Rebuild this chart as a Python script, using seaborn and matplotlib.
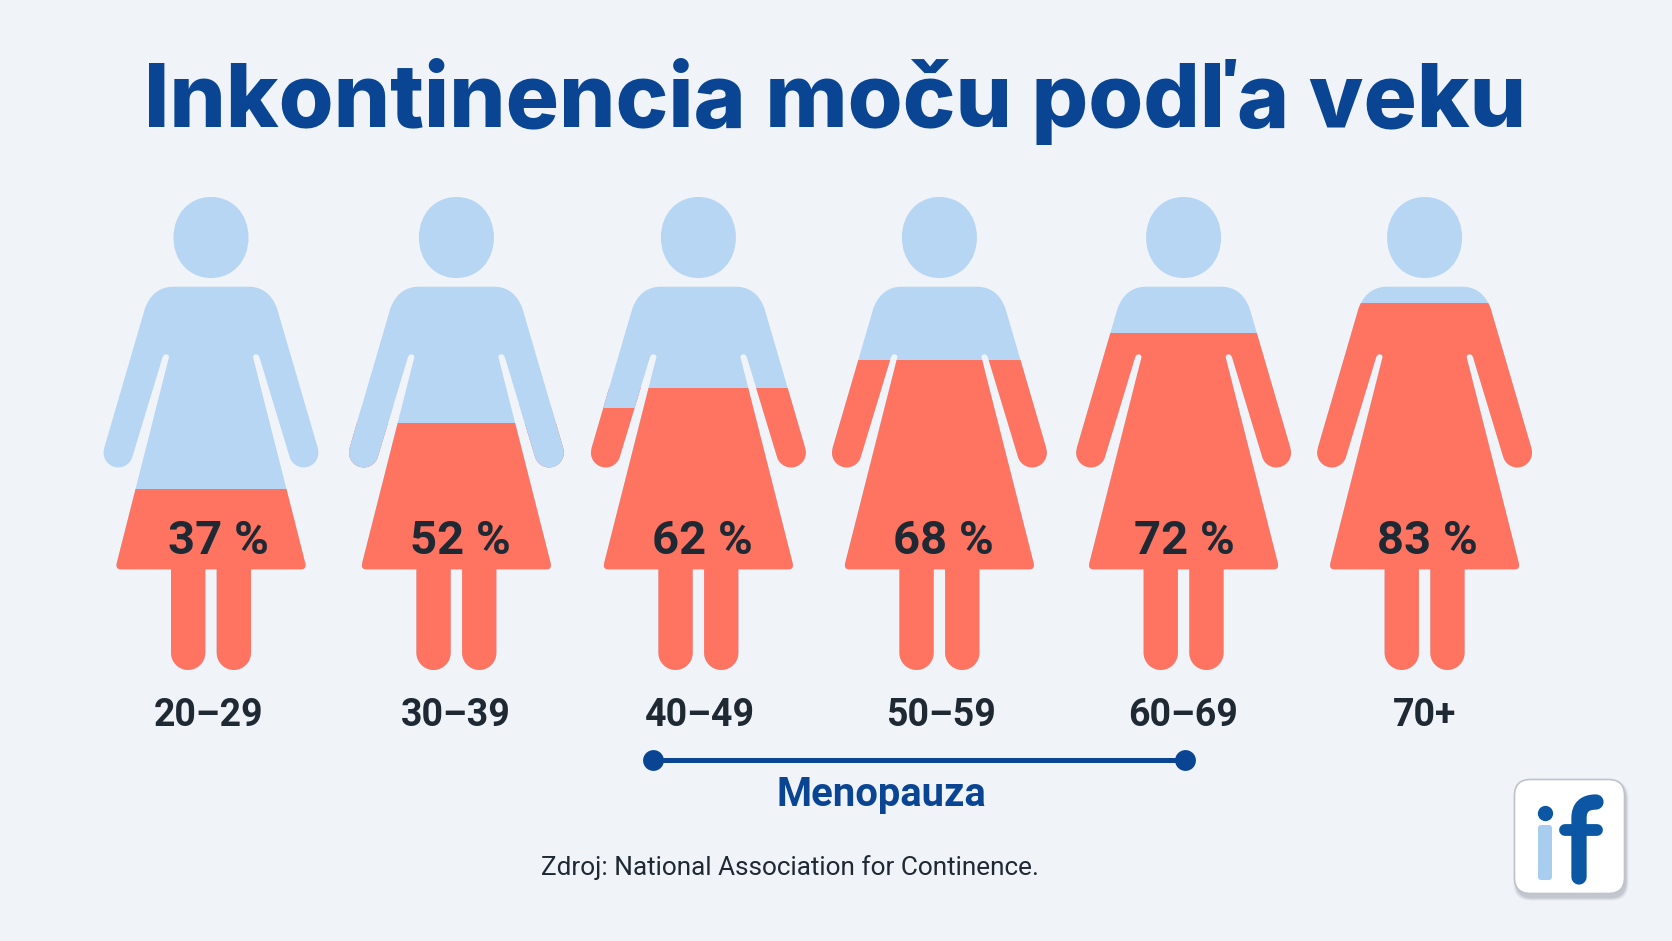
import numpy as np
import pandas as pd
import seaborn as sns
import matplotlib.pyplot as plt
from matplotlib.path import Path
from matplotlib.patches import PathPatch, FancyBboxPatch
from matplotlib.transforms import Affine2D

# values
age_groups = ["20–29", "30–39", "40–49", "50–59", "60–69", "70+"]
share_labels = ["37 %", "52 %", "62 %", "68 %", "72 %", "83 %"]
# how far the red reaches, in % of the figure height (feet = 0, top of head = 100)
fill_height = [38.3, 52.2, 59.6, 65.5, 71.2, 77.6]

W, H = 1672, 941
BG = "#F0F3F8"
BLUE = "#B7D6F4"
RED = "#FF7361"
NAVY = "#0A4594"
DARK = "#1F2933"
LOGO = "#0B57A4"

# layout, in pixels
centres = [211, 456.4, 698.4, 939.4, 1183.6, 1424.6]
label_x = [218, 460, 702, 943, 1184, 1427]
age_x = [209, 455.5, 699.5, 940.5, 1183.5, 1424.5]
FEET = 670
HEAD = 197


def arc(cx, cy, r, a0, a1, n=24):
    # angles in degrees, y goes down in the pixel system
    a = np.radians(np.linspace(a0, a1, n))
    return list(zip(cx + r * np.cos(a), cy + r * np.sin(a)))


def quad(p0, p1, p2, n=16):
    t = np.linspace(0, 1, n)[:, None]
    p0, p1, p2 = map(np.array, (p0, p1, p2))
    return [tuple(q) for q in (1 - t) ** 2 * p0 + 2 * t * (1 - t) * p1 + t ** 2 * p2]


def body_path(cx):
    # left half from the top centre round to the crotch, then mirrored
    half = [(0, 286.7), (-37.7, 286.7)]
    half += quad((-37.7, 286.7), (-58, 287), (-66, 308.3))
    half += [(-106.8, 448)]
    half += arc(-92.7, 452.7, 14.7, 198, 90) + arc(-92.7, 452.7, 14.7, 90, 18)
    half += [(-48.3, 356.7)]
    half += arc(-45, 357.5, 3.2, 195, 345, n=8)
    half += [(-94.3, 563.3)]
    half += quad((-94.3, 563.3), (-95.5, 569.3), (-90.3, 569.3), n=6)
    half += [(-40, 569.3), (-40, 652.8)]
    half += arc(-22.85, 652.8, 17.15, 180, 0)
    half += [(-5.7, 569.3)]
    outline = half + [(-x, y) for x, y in half[::-1]]
    return Path([(cx + x, y) for x, y in outline] + [(cx, 286.7)],
                [Path.MOVETO] + [Path.LINETO] * (len(outline) - 1) + [Path.CLOSEPOLY])


def head_path(cx, cy=237.5, rx=37.5, ry=40.5, k=0.58):
    v = [(cx, cy - ry),
         (cx + k * rx, cy - ry), (cx + rx, cy - k * ry), (cx + rx, cy),
         (cx + rx, cy + k * ry), (cx + k * rx, cy + ry), (cx, cy + ry),
         (cx - k * rx, cy + ry), (cx - rx, cy + k * ry), (cx - rx, cy),
         (cx - rx, cy - k * ry), (cx - k * rx, cy - ry), (cx, cy - ry)]
    return Path(v, [Path.MOVETO] + [Path.CURVE4] * 12)


sns.set_theme(style="white")
plt.rcParams['font.family'] = ['Roboto', 'DejaVu Sans']

fig = plt.figure(figsize=(W / 100, H / 100), dpi=100, facecolor=BG)
ax = fig.add_axes([0, 0, 1, 1], facecolor=BG)

df = pd.DataFrame({"x": centres, "fill": fill_height})
sns.barplot(data=df, x="x", y="fill", native_scale=True, color=RED, saturation=1,
            width=0.95, linewidth=0, ax=ax, zorder=3)

# y axis: 0 at the feet, 100 at the top of the head
unit = (FEET - HEAD) / 100
ax.set_xlim(0, W)
ax.set_ylim(-(H - FEET) / unit, FEET / unit)
ax.axis("off")

# pixel coordinates, y going down
px = Affine2D().scale(1, -1).translate(0, H)

bars = list(ax.patches)
for bar, cx in zip(bars, centres):
    body = body_path(cx)
    ax.add_patch(PathPatch(body, fc=BLUE, ec="none", transform=px, zorder=2))
    ax.add_patch(PathPatch(head_path(cx), fc=BLUE, ec="none", transform=px, zorder=2))
    bar.set_clip_path(body, px)


def arm_cover(i, pts):
    # the arms do not follow the body's level in two of the figures
    cx = centres[i]
    p = PathPatch(Path([(cx + x, y) for x, y in pts] + [(cx + pts[0][0], pts[0][1])]),
                  fc=BLUE, ec="none", transform=px, zorder=4)
    ax.add_patch(p)
    p.set_clip_path(body_path(cx), px)


# 30-39: both arms stay blue
left_arm = [(-125, 405), (-59, 405), (-78, 480), (-125, 480)]
arm_cover(1, left_arm)
arm_cover(1, [(-x, y) for x, y in left_arm])
# 40-49: the left arm turns red lower down
arm_cover(2, [(-120, 387), (-58, 387), (-58, 408), (-120, 408)])


def txt(x, y, s, **kw):
    ax.text(x, y, s, transform=px, ha="center", va="center", **kw)


txt(835, 101.5, "Inkontinencia moču podľa veku",
    fontsize=64, fontweight="heavy", color=NAVY, family=["Inter", "DejaVu Sans"])

for x, s in zip(label_x, share_labels):
    txt(x, 541.5, s, fontsize=34, fontweight="bold", color=DARK, zorder=6)
for x, s in zip(age_x, age_groups):
    txt(x, 715, s, fontsize=27, fontweight="bold", color=DARK)

# menopause span
ax.plot([652.6, 1184.7], [760, 760], transform=px, color=NAVY, lw=3.6, zorder=4,
        solid_capstyle="butt")
ax.plot([652.6, 1184.7], [760, 760], transform=px, ls="none", marker="o", ms=15,
        mfc=NAVY, mec="none", zorder=5)
txt(881, 795, "Menopauza", fontsize=28.8, fontweight="bold", color=NAVY)
txt(790, 868, "Zdroj: National Association for Continence.", fontsize=18.8, color=DARK)

# logo
for grow, alpha in zip([5, 3, 1], [0.12, 0.18, 0.25]):
    ax.add_patch(FancyBboxPatch((1516 - grow / 2, 783 - grow / 2), 110 + grow, 115 + grow,
                                boxstyle="round,pad=0,rounding_size=17",
                                fc="#8E96A3", ec="none", alpha=alpha, transform=px, zorder=5))
ax.add_patch(FancyBboxPatch((1514.5, 779.5), 110, 114, boxstyle="round,pad=0,rounding_size=16",
                            fc="white", ec="#BFC4CC", lw=1.2, transform=px, zorder=6))
ax.add_patch(FancyBboxPatch((1538, 825), 14, 55, boxstyle="round,pad=0,rounding_size=3",
                            fc="#A9CDEE", ec="none", transform=px, zorder=7))
ax.plot([1545], [813], transform=px, marker="o", ms=11, mfc=LOGO, mec="none", zorder=7)
f_stem = Path([(1579, 877), (1579, 818), (1579, 802), (1596, 802)],
              [Path.MOVETO, Path.LINETO, Path.CURVE3, Path.CURVE3])
ax.add_patch(PathPatch(f_stem, fc="none", ec=LOGO, lw=11, capstyle="round",
                       joinstyle="round", transform=px, zorder=7))
f_bar = Path([(1565, 830), (1597, 830)], [Path.MOVETO, Path.LINETO])
ax.add_patch(PathPatch(f_bar, fc="none", ec=LOGO, lw=8.5, capstyle="round",
                       transform=px, zorder=7))

fig.savefig("out.png", dpi=100, facecolor=BG)
